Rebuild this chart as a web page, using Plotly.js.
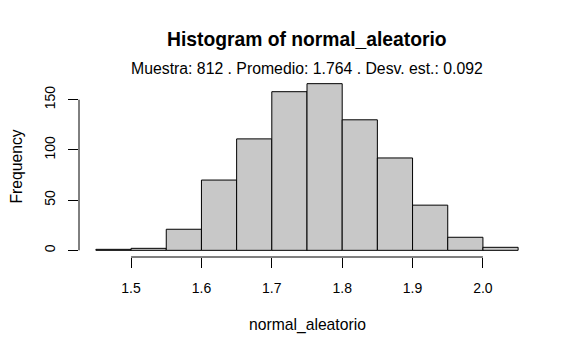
<!DOCTYPE html>
<html>
<head>
<meta charset="utf-8">
<script src="https://cdn.plot.ly/plotly-3.0.1.min.js"></script>
<style>html,body{margin:0;padding:0;background:#fff}#chart{width:576px;height:355px}</style>
</head>
<body>
<div id="chart"></div>
<script>
// Data
const binEdges = [1.45, 1.50, 1.55, 1.60, 1.65, 1.70, 1.75, 1.80, 1.85, 1.90, 1.95, 2.00, 2.05];
const counts   = [1, 2, 21, 70, 111, 158, 166, 130, 92, 45, 13, 3];
const xTicks = [1.5, 1.6, 1.7, 1.8, 1.9, 2.0];
const xTickLabels = ["1.5", "1.6", "1.7", "1.8", "1.9", "2.0"];
const yTicks = [0, 50, 100, 150];
const yTickLabels = ["0", "50", "100", "150"];
const titleText = "Histogram of normal_aleatorio";
const subtitleText = "Muestra: 812 . Promedio: 1.764 . Desv. est.: 0.092";
const xTitle = "normal_aleatorio";
const yTitle = "Frequency";

const centers = counts.map((c, i) => (binEdges[i] + binEdges[i + 1]) / 2);
const widths = counts.map((c, i) => binEdges[i + 1] - binEdges[i]);

const xMin = binEdges[0], xMax = binEdges[binEdges.length - 1];
const xPad = (xMax - xMin) * 0.04;
const yMax = Math.max(...counts);
const yPad = yMax * 0.04;

const font = "Liberation Sans, Arial, Helvetica, sans-serif";

const trace = {
  type: "bar",
  x: centers,
  y: counts,
  width: widths,
  marker: { color: "#c8c8c8", line: { color: "#000", width: 1 } },
  hoverinfo: "x+y"
};

const layout = {
  width: 576, height: 355,
  margin: { l: 78.5, r: 40.5, t: 77.4, b: 98.4 },
  paper_bgcolor: "#fff", plot_bgcolor: "#fff",
  showlegend: false,
  bargap: 0,
  xaxis: {
    range: [xMin - xPad, xMax + xPad],
    tickvals: xTicks, ticktext: xTickLabels,
    ticks: "outside", ticklen: 10, tickwidth: 1, tickcolor: "#000",
    showgrid: false, zeroline: false, showline: false,
    ticklabelstandoff: 8,
    tickfont: { family: font, size: 14, color: "#000" }
  },
  yaxis: {
    range: [-yPad, yMax + yPad],
    tickvals: yTicks, ticktext: yTickLabels,
    ticks: "outside", ticklen: 10, tickwidth: 1, tickcolor: "#000",
    tickangle: -90,
    showgrid: false, zeroline: false, showline: false,
    ticklabelstandoff: 7,
    tickfont: { family: font, size: 14, color: "#000" }
  },
  shapes: [
    { type: "line", xref: "x", yref: "paper", x0: xTicks[0], x1: xTicks[xTicks.length - 1], y0: 0, y1: 0,
      line: { color: "#000", width: 1 } },
    { type: "line", xref: "paper", yref: "y", x0: 0, x1: 0, y0: yTicks[0], y1: yTicks[yTicks.length - 1],
      line: { color: "#000", width: 1 } }
  ],
  annotations: [
    { text: "<b>" + titleText + "</b>", xref: "paper", yref: "paper", x: 0.5, y: 1, yshift: 37.5,
      xanchor: "center", yanchor: "middle", showarrow: false,
      font: { family: font, size: 19.3, color: "#000" } },
    { text: subtitleText, xref: "paper", yref: "paper", x: 0.5, y: 1, yshift: 9,
      xanchor: "center", yanchor: "middle", showarrow: false,
      font: { family: font, size: 15.8, color: "#000" } },
    { text: xTitle, xref: "paper", yref: "paper", x: 0.5, y: 0, yshift: -68,
      xanchor: "center", yanchor: "middle", showarrow: false,
      font: { family: font, size: 15.7, color: "#000" } },
    { text: yTitle, xref: "paper", yref: "paper", x: 0, y: 0.5, xshift: -63.5, textangle: -90,
      xanchor: "center", yanchor: "middle", showarrow: false,
      font: { family: font, size: 15.7, color: "#000" } }
  ]
};

Plotly.newPlot("chart", [trace], layout, { displayModeBar: false, staticPlot: true });
</script>
</body>
</html>
